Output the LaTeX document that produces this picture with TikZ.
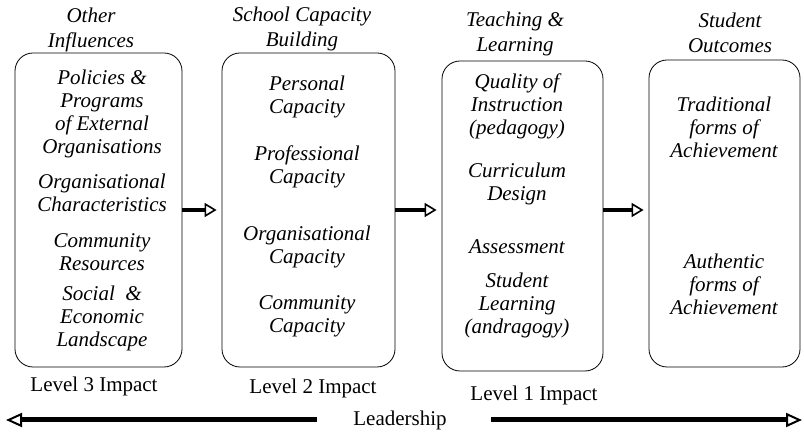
\documentclass[tikz,border=0pt]{standalone}
\usepackage{fontspec}
\setmainfont{Liberation Serif}
\usetikzlibrary{arrows.meta}

\begin{document}
\begin{tikzpicture}[x=1pt, y=1pt,
        box/.style={draw=black, line width=0.8pt, rounded corners=18pt, inner sep=0pt},
        item/.style={align=center, inner sep=0pt, font=\fontsize{21}{23}\selectfont\itshape},
        head/.style={align=center, inner sep=0pt, font=\fontsize{21}{25}\selectfont\itshape},
        level/.style={inner sep=0pt, font=\fontsize{21}{23}\selectfont},
        flow/.style={line width=4pt, shorten >=5pt,
            -{Triangle[open, length=12pt, width=14pt, line width=1.6pt]}},
        lead/.style={line width=5pt,
            -{Triangle[open, length=16pt, width=14pt, line width=2pt]}}]
            \useasboundingbox (0,0) rectangle (804,434);

            % the four stages
            \node[box, minimum width=167pt, minimum height=314pt] (infl) at (98.5,224) {};
            \node[box, minimum width=173pt, minimum height=314pt] (cap) at (308.5,224) {};
            \node[box, minimum width=161pt, minimum height=310pt] (teach) at (522.5,218) {};
            \node[box, minimum width=151pt, minimum height=307pt] (outc) at (724.5,220.5) {};

            \node[head] (infl-h) at (91,404.5) {Other\\Influences};
            \node[head] (cap-h) at (302,405.5) {School Capacity\\Building};
            \node[head] (teach-h) at (515,400.5) {Teaching \&\\Learning};
            \node[head] (outc-h) at (730,401.5) {Student\\Outcomes};

            \node[item] (policies) at (102,320.5) {Policies \&\\Programs\\of External\\Organisations};
            \node[item] (orgchar) at (102,241.5) {Organisational\\Characteristics};
            \node[item] (commres) at (102,181.5) {Community\\Resources};
            \node[item] (social) at (102,116) {Social \ \&\\Economic\\Landscape};

            \node[item] (personal) at (307,337.5) {Personal\\Capacity};
            \node[item] (profess) at (307,267.5) {Professional\\Capacity};
            \node[item] (orgcap) at (307,187.5) {Organisational\\Capacity};
            \node[item] (commcap) at (307,117.5) {Community\\Capacity};

            \node[item] (quality) at (517,328) {Quality of\\Instruction\\(pedagogy)};
            \node[item] (curric) at (517,250.5) {Curriculum\\Design};
            \node[item] (assess) at (517,187) {Assessment};
            \node[item] (learning) at (517,129) {Student\\Learning\\(andragogy)};

            \node[item] (tradit) at (724,306.5) {Traditional\\forms of\\Achievement};
            \node[item] (authent) at (724,150) {Authentic\\forms of\\Achievement};

            \node[level] (lvl3) at (94,48) {Level 3 Impact};
            \node[level] (lvl2) at (313,46) {Level 2 Impact};
            \node[level] (lvl1) at (534,39) {Level 1 Impact};

            \draw[flow] (infl.east) -- (infl.east -| cap.west);
            \draw[flow] (cap.east) -- (cap.east -| teach.west);
            \draw[flow] (teach.east |- cap.east) -- (cap.east -| outc.west);

            % leadership runs both ways
            \node[level] (ldr) at (400,14) {Leadership};
            \coordinate (ldr-l) at (6,14);
            \coordinate (ldr-r) at (802,14);
            \draw[lead] ([xshift=-36pt]ldr.west) -- (ldr-l);
            \draw[lead] ([xshift=44pt]ldr.east) -- (ldr-r);
        \end{tikzpicture}
\end{document}
